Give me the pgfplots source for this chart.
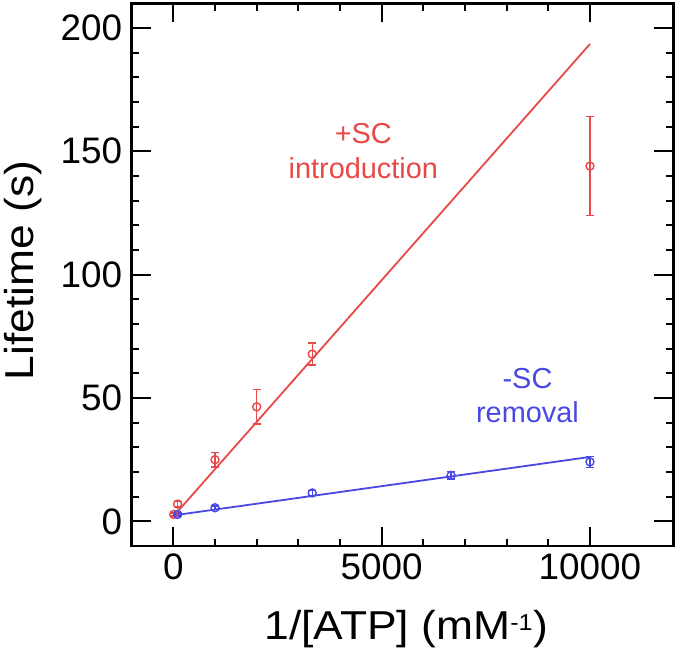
\documentclass[border=0pt]{standalone}
\usepackage{pgfplots}
\pgfplotsset{compat=1.18}
\usepackage{fontspec}
\setmainfont{Liberation Sans}
\newfontfamily\labelfont[FakeStretch=1.1]{Liberation Sans}
\definecolor{myred}{RGB}{232,72,72}
\definecolor{myblue}{RGB}{72,72,228}
\begin{document}
\begin{tikzpicture}[x=1bp,y=1bp]
\begin{axis}[
  scale only axis, width=541.6bp, height=542.7bp,
  at={(0,0)}, anchor=south west,
  xmin=-1000, xmax=12000, ymin=-10, ymax=210,
  xtick={0,5000,10000}, minor x tick num=4,
  ytick={0,50,100,150,200}, minor y tick num=4,
  tick align=inside, major tick length=19bp, minor tick length=7.5bp,
  axis line style={line width=2.5bp},
  every tick/.style={black, line width=2.2bp},
  ticklabel style={font=\fontsize{37}{42}\selectfont},
  xticklabel style={yshift=-4bp},
  yticklabel style={xshift=-6bp},
  /pgf/number format/assume math mode=true,
  /pgf/number format/set thousands separator={},
  scaled x ticks=false,
  xlabel={1/[ATP] (mM\textsuperscript{\fontsize{23}{25}\selectfont -1})},
  ylabel={Lifetime (s)},
  label style={font=\labelfont\fontsize{40.5}{46}\selectfont},
  xlabel style={at={(axis description cs:0.507,-0.172)}, anchor=base},
  ylabel style={at={(axis description cs:-0.182,0.508)}, anchor=base},
  error bars/error bar style={line width=1.4bp},
  error bars/error mark options={rotate=90, mark size=4bp, line width=1.4bp},
  clip=false,
]
% fit lines
\addplot[myred, line width=1.8bp] coordinates {(0,2) (10000,193.5)};
\addplot[myblue, line width=1.8bp] coordinates {(0,2.4) (10000,26.1)};
% data with error bars
\addplot[myred, only marks, mark=o, mark size=4bp, mark options={line width=1.4bp},
  error bars/.cd, y dir=both, y explicit] coordinates {
  (10,2.8) +- (0,0.6)
  (100,7.0) +- (0,1.0)
  (1000,25.0) +- (0,3.0)
  (2000,46.4) +- (0,7.0)
  (3333,67.8) +- (0,4.5)
  (10000,144.0) +- (0,20.0)
};
\addplot[myblue, only marks, mark=o, mark size=4bp, mark options={line width=1.4bp},
  error bars/.cd, y dir=both, y explicit] coordinates {
  (100,2.8) +- (0,0.6)
  (1000,5.5) +- (0,0.7)
  (3333,11.5) +- (0,1.0)
  (6667,18.6) +- (0,1.5)
  (10000,24.1) +- (0,2.3)
};
\node[myred, align=center, font=\fontsize{29}{35}\selectfont] at (axis cs:4560,150) {+SC\\introduction};
\node[myblue, align=center, font=\fontsize{29}{35}\selectfont] at (axis cs:8500,51) {-SC\\removal};
\end{axis}
\pgfresetboundingbox
\path (-131.7,-105) rectangle (545.3,546);
\end{tikzpicture}
\end{document}
